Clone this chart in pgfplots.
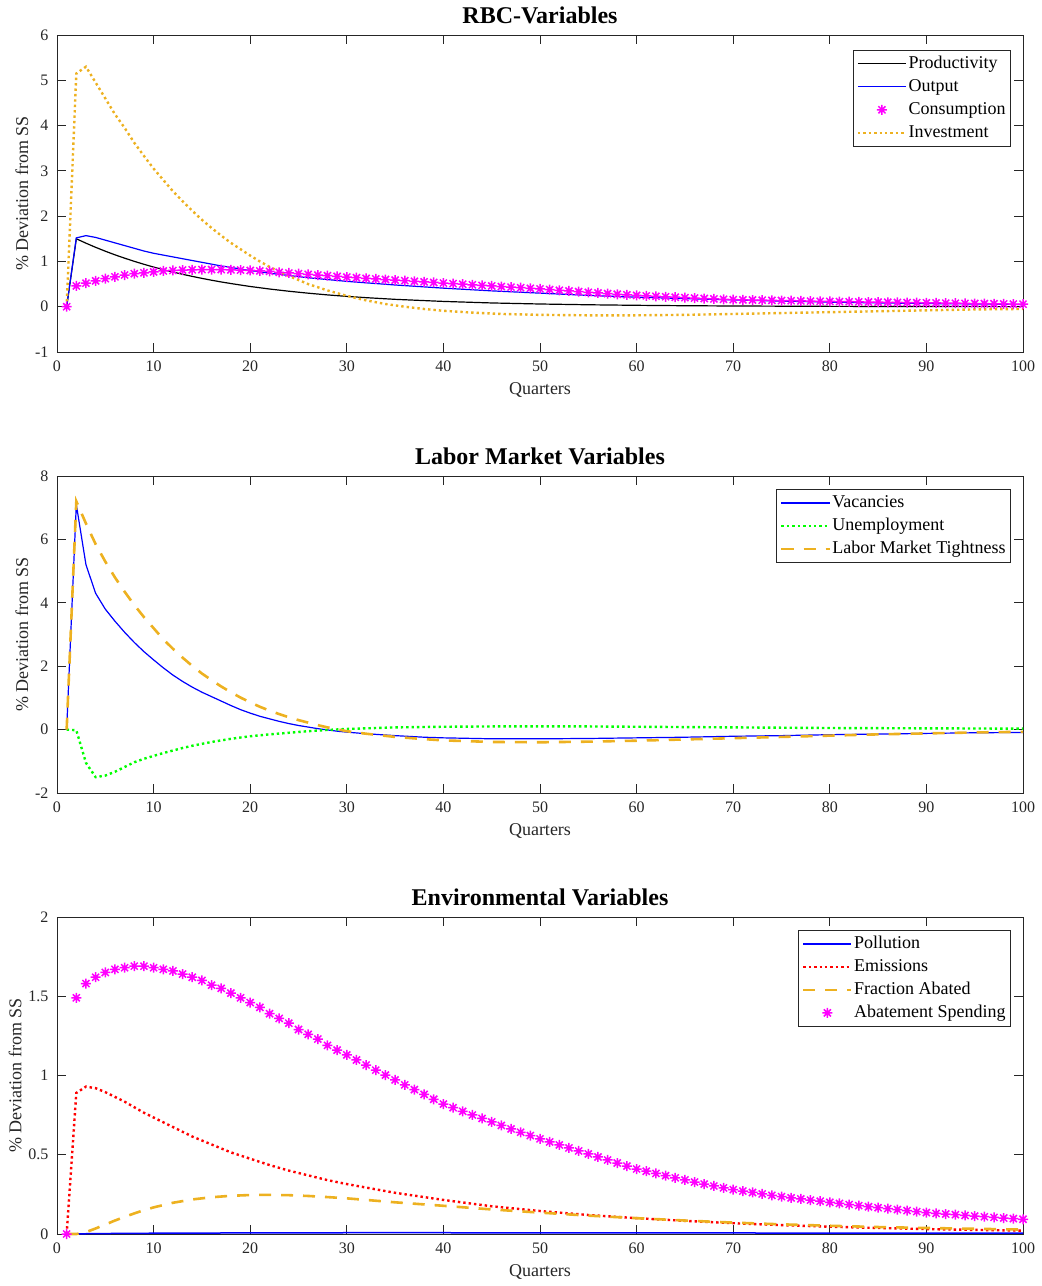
\documentclass[border=0pt]{standalone}
\usepackage{fontspec}
\setmainfont{Liberation Serif}
\usepackage{pgfplots}
\pgfplotsset{compat=1.18}

\definecolor{mblue}{RGB}{0,0,255}
\definecolor{morange}{RGB}{237,177,32}
\definecolor{mgreen}{RGB}{0,255,0}
\definecolor{mred}{RGB}{255,0,0}
\definecolor{mmag}{RGB}{255,0,255}
\definecolor{axgray}{RGB}{38,38,38}

\newcommand{\ticksize}{\fontsize{16}{19}\selectfont}
\newcommand{\labsize}{\fontsize{18}{21}\selectfont}
\newcommand{\titlesize}{\fontsize{24}{28}\selectfont}

% eight-armed asterisk marker
\pgfdeclareplotmark{mstar}{%
  \pgfpathmoveto{\pgfqpoint{-\pgfplotmarksize}{0pt}}%
  \pgfpathlineto{\pgfqpoint{\pgfplotmarksize}{0pt}}%
  \pgfpathmoveto{\pgfqpoint{0pt}{-\pgfplotmarksize}}%
  \pgfpathlineto{\pgfqpoint{0pt}{\pgfplotmarksize}}%
  \pgfpathmoveto{\pgfqpoint{-0.707\pgfplotmarksize}{-0.707\pgfplotmarksize}}%
  \pgfpathlineto{\pgfqpoint{0.707\pgfplotmarksize}{0.707\pgfplotmarksize}}%
  \pgfpathmoveto{\pgfqpoint{-0.707\pgfplotmarksize}{0.707\pgfplotmarksize}}%
  \pgfpathlineto{\pgfqpoint{0.707\pgfplotmarksize}{-0.707\pgfplotmarksize}}%
  \pgfusepathqstroke}

\pgfplotsset{
  irf/.style={
    width=966pt, height=317pt, scale only axis,
    xmin=0, xmax=100, xtick={0,10,...,100},
    tick align=inside, xtick pos=both, ytick pos=both,
    major tick length=9pt,
    axis line style={axgray, line width=0.8pt},
    every tick/.style={axgray, line width=0.8pt},
    tick label style={font=\ticksize, text=axgray},
    xticklabel style={yshift=-5pt},
    yticklabel style={xshift=-5pt},
    /pgf/number format/assume math mode=true,
    xlabel={Quarters}, ylabel={\% Deviation from SS},
    label style={font=\labsize, text=axgray},
    xlabel style={yshift=-4pt},
    title style={font=\titlesize\bfseries, yshift=2pt},
    legend cell align=left,
    legend image code/.code={\draw[mark repeat=2,mark phase=2,##1] plot coordinates {(0pt,0pt) (24pt,0pt) (48pt,0pt)};},
    legend style={font=\labsize, draw=axgray, line width=0.8pt, fill=white,
      anchor=north east, inner sep=3.5pt, row sep=3pt,
      nodes={inner sep=1.5pt, text height=13pt, text depth=4pt, text=black}},
    clip=false,
  },
  solidline/.style={line width=1.2pt},
  dotline/.style={line width=2.4pt, dash pattern=on 2.4pt off 3pt},
  dashline/.style={line width=2.6pt, dash pattern=on 12pt off 10pt},
  stars/.style={only marks, mark=mstar, mark size=5pt, color=mmag, mark options={line width=1.5pt}},
}

\begin{document}
\begin{tikzpicture}
\useasboundingbox (-57pt,352pt) rectangle (985pt,-934pt);

% ---------------- RBC block ----------------
\begin{axis}[irf, at={(0pt,0pt)}, ymin=-1, ymax=6, ytick={-1,0,...,6},
  title={RBC-Variables}, legend style={at={(0.9876,0.953)}}]
\addplot[color=black, solidline] coordinates {
(1,0)(2,1.5)(3,1.403)(4,1.311)(5,1.226)(6,1.146)(7,1.072)(8,1.002)(9,0.937)(10,0.876)
(11,0.819)(12,0.766)(13,0.716)(14,0.670)(15,0.626)(16,0.585)(17,0.547)(18,0.512)(19,0.479)(20,0.447)
(22,0.391)(24,0.342)(26,0.299)(28,0.261)(30,0.228)(32,0.200)(35,0.163)(40,0.117)(45,0.083)(50,0.060)
(55,0.043)(60,0.031)(65,0.022)(70,0.016)(80,0.008)(90,0.004)(100,0.002)};
\addlegendentry{Productivity}
\addplot[color=mblue, solidline] coordinates {
(1,0)(2,1.52)(3,1.57)(4,1.53)(5,1.47)(6,1.41)(7,1.35)(8,1.29)(9,1.23)(10,1.18)
(11,1.14)(12,1.10)(13,1.06)(14,1.02)(15,0.98)(16,0.94)(17,0.90)(18,0.87)(19,0.83)(20,0.80)
(22,0.74)(24,0.69)(26,0.64)(28,0.60)(30,0.56)(35,0.48)(40,0.41)(45,0.35)(50,0.30)(55,0.25)
(60,0.21)(65,0.18)(70,0.15)(75,0.125)(80,0.10)(85,0.085)(90,0.07)(95,0.06)(100,0.05)};
\addlegendentry{Output}
\addplot[stars] coordinates {
(1,0)(2,0.46)(3,0.52)(4,0.57)(5,0.62)(6,0.66)(7,0.70)(8,0.73)(9,0.75)(10,0.77)
(11,0.79)(12,0.80)(13,0.81)(14,0.815)(15,0.82)(16,0.82)(17,0.82)(18,0.815)(19,0.81)(20,0.80)
(21,0.79)(22,0.78)(23,0.76)(24,0.745)(25,0.73)(26,0.715)(27,0.70)(28,0.685)(29,0.67)(30,0.655)
(31,0.64)(32,0.627)(33,0.614)(34,0.601)(35,0.588)(36,0.575)(37,0.562)(38,0.549)(39,0.536)(40,0.523)
(41,0.51)(42,0.497)(43,0.484)(44,0.471)(45,0.458)(46,0.445)(47,0.432)(48,0.419)(49,0.406)(50,0.393)
(51,0.378)(52,0.363)(53,0.348)(54,0.333)(55,0.318)(56,0.303)(57,0.289)(58,0.275)(59,0.262)(60,0.25)
(61,0.24)(62,0.23)(63,0.22)(64,0.21)(65,0.20)(66,0.19)(67,0.181)(68,0.172)(69,0.164)(70,0.156)
(71,0.152)(72,0.148)(73,0.144)(74,0.14)(75,0.136)(76,0.132)(77,0.128)(78,0.124)(79,0.12)(80,0.116)
(81,0.113)(82,0.11)(83,0.107)(84,0.104)(85,0.101)(86,0.098)(87,0.095)(88,0.092)(89,0.089)(90,0.086)
(91,0.083)(92,0.08)(93,0.077)(94,0.074)(95,0.071)(96,0.068)(97,0.065)(98,0.062)(99,0.059)(100,0.056)};
\addlegendentry{Consumption}
\addplot[color=morange, dotline] coordinates {
(1,0)(2,5.15)(3,5.3)(4,4.95)(5,4.6)(6,4.25)(7,3.95)(8,3.62)(9,3.33)(10,3.05)
(11,2.8)(12,2.55)(13,2.33)(14,2.12)(15,1.92)(16,1.74)(17,1.57)(18,1.41)(19,1.27)(20,1.13)
(21,1.0)(22,0.88)(23,0.78)(24,0.68)(25,0.59)(26,0.5)(27,0.43)(28,0.36)(29,0.3)(30,0.24)
(32,0.14)(34,0.06)(36,0.0)(38,-0.05)(40,-0.09)(43,-0.13)(46,-0.16)(50,-0.18)(55,-0.19)(60,-0.19)
(65,-0.18)(70,-0.16)(75,-0.14)(80,-0.12)(85,-0.1)(90,-0.08)(95,-0.06)(100,-0.05)};
\addlegendentry{Investment}
\end{axis}

% ---------------- Labour market block ----------------
\begin{axis}[irf, at={(0pt,-441pt)}, ymin=-2, ymax=8, ytick={-2,0,...,8},
  title={Labor Market Variables}, legend style={at={(0.9876,0.959)}}]
\addplot[color=mblue, solidline] coordinates {
(1,0)(2,7.1)(3,5.2)(4,4.3)(5,3.8)(6,3.42)(7,3.07)(8,2.75)(9,2.46)(10,2.2)
(11,1.95)(12,1.72)(13,1.52)(14,1.34)(15,1.18)(16,1.04)(17,0.9)(18,0.76)(19,0.63)(20,0.52)
(21,0.42)(22,0.34)(23,0.26)(24,0.19)(25,0.13)(26,0.08)(27,0.03)(28,-0.01)(29,-0.05)(30,-0.08)
(32,-0.13)(35,-0.19)(38,-0.24)(40,-0.26)(45,-0.29)(50,-0.29)(55,-0.28)(60,-0.26)(65,-0.24)(70,-0.21)
(75,-0.19)(80,-0.16)(85,-0.14)(90,-0.12)(95,-0.1)(100,-0.09)};
\addlegendentry{Vacancies}
\addplot[color=mgreen, dotline] coordinates {
(1,0)(2,-0.02)(3,-1.05)(4,-1.5)(5,-1.45)(6,-1.33)(7,-1.18)(8,-1.03)(9,-0.92)(10,-0.83)
(11,-0.74)(12,-0.66)(13,-0.58)(14,-0.51)(15,-0.45)(16,-0.39)(17,-0.34)(18,-0.29)(19,-0.25)(20,-0.21)
(22,-0.15)(24,-0.1)(26,-0.05)(28,-0.01)(30,0.02)(35,0.07)(40,0.09)(45,0.1)(50,0.1)(55,0.1)
(60,0.09)(70,0.07)(80,0.05)(90,0.04)(100,0.03)};
\addlegendentry{Unemployment}
\addplot[color=morange, dashline] coordinates {
(1,0)(2,7.2)(3,6.5)(4,5.85)(5,5.3)(6,4.8)(7,4.35)(8,3.93)(9,3.55)(10,3.2)
(11,2.85)(12,2.55)(13,2.27)(14,2.01)(15,1.77)(16,1.56)(17,1.36)(18,1.18)(19,1.01)(20,0.86)
(21,0.72)(22,0.6)(23,0.49)(24,0.39)(25,0.3)(26,0.22)(27,0.14)(28,0.07)(29,0.01)(30,-0.05)
(32,-0.13)(35,-0.23)(38,-0.3)(40,-0.34)(45,-0.39)(50,-0.4)(55,-0.38)(60,-0.35)(65,-0.31)(70,-0.27)
(75,-0.23)(80,-0.19)(85,-0.15)(90,-0.12)(95,-0.09)(100,-0.07)};
\addlegendentry{Labor Market Tightness}
\end{axis}

% ---------------- Environmental block ----------------
\begin{axis}[irf, at={(0pt,-882pt)}, ymin=0, ymax=2, ytick={0,0.5,...,2},
  title={Environmental Variables}, legend style={at={(0.9876,0.959)}}]
\addplot[draw=mblue, color=mblue, line width=1.5pt] coordinates {
(1,0)(2,0.001)(5,0.003)(10,0.005)(20,0.007)(30,0.008)(40,0.008)(60,0.007)(80,0.006)(100,0.005)};
\addlegendentry{Pollution}
\addplot[color=mred, dotline] coordinates {
(1,0)(2,0.89)(3,0.93)(4,0.92)(5,0.895)(6,0.865)(7,0.835)(8,0.8)(9,0.765)(10,0.735)
(12,0.675)(14,0.615)(16,0.565)(18,0.515)(20,0.475)(22,0.435)(24,0.4)(26,0.37)(28,0.34)(30,0.315)
(35,0.26)(40,0.215)(45,0.175)(50,0.145)(55,0.12)(60,0.1)(65,0.083)(70,0.068)(75,0.056)(80,0.046)
(85,0.038)(90,0.031)(95,0.026)(100,0.021)};
\addlegendentry{Emissions}
\addplot[color=morange, dashline] coordinates {
(1,0)(2,0)(3,0.012)(4,0.035)(5,0.06)(6,0.085)(7,0.108)(8,0.13)(9,0.15)(10,0.168)
(12,0.197)(14,0.218)(16,0.232)(18,0.241)(20,0.246)(22,0.247)(24,0.245)(26,0.24)(28,0.233)(30,0.225)
(35,0.2)(40,0.178)(45,0.155)(50,0.135)(55,0.116)(60,0.1)(65,0.085)(70,0.072)(75,0.061)(80,0.052)
(85,0.044)(90,0.038)(95,0.033)(100,0.028)};
\addlegendentry{Fraction Abated}
\addplot[stars] coordinates {
(1,0)(2,1.49)(3,1.58)(4,1.62)(5,1.65)(6,1.67)(7,1.68)(8,1.69)(9,1.69)(10,1.68)
(11,1.67)(12,1.66)(13,1.64)(14,1.62)(15,1.60)(16,1.57)(17,1.55)(18,1.52)(19,1.49)(20,1.46)
(21,1.43)(22,1.39)(23,1.36)(24,1.33)(25,1.29)(26,1.26)(27,1.23)(28,1.19)(29,1.16)(30,1.13)
(31,1.098)(32,1.066)(33,1.034)(34,1.003)(35,0.972)(36,0.941)(37,0.911)(38,0.881)(39,0.85)(40,0.82)
(41,0.797)(42,0.774)(43,0.751)(44,0.729)(45,0.707)(46,0.685)(47,0.663)(48,0.642)(49,0.621)(50,0.60)
(51,0.581)(52,0.562)(53,0.543)(54,0.524)(55,0.505)(56,0.486)(57,0.467)(58,0.448)(59,0.429)(60,0.41)
(61,0.396)(62,0.382)(63,0.368)(64,0.354)(65,0.341)(66,0.328)(67,0.315)(68,0.303)(69,0.291)(70,0.28)
(71,0.271)(72,0.262)(73,0.253)(74,0.244)(75,0.236)(76,0.228)(77,0.221)(78,0.214)(79,0.207)(80,0.2)
(81,0.193)(82,0.186)(83,0.179)(84,0.172)(85,0.166)(86,0.16)(87,0.154)(88,0.148)(89,0.141)(90,0.135)
(91,0.13)(92,0.126)(93,0.122)(94,0.117)(95,0.113)(96,0.109)(97,0.105)(98,0.101)(99,0.097)(100,0.093)};
\addlegendentry{Abatement Spending}
\end{axis}
\end{tikzpicture}
\end{document}
